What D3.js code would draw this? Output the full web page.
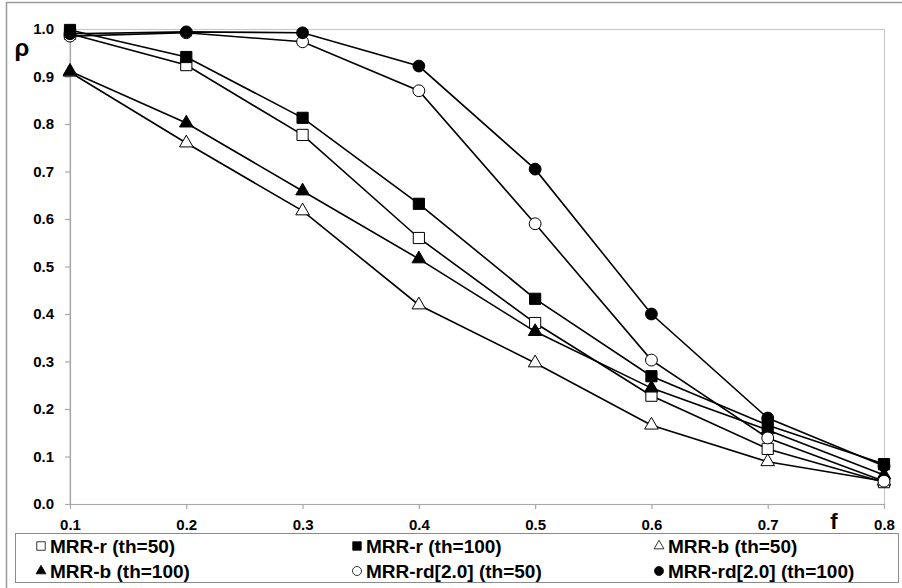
<!DOCTYPE html>
<html>
<head>
<meta charset="utf-8">
<script src="https://cdn.jsdelivr.net/npm/d3@7"></script>
<style>
  html, body { margin: 0; padding: 0; background: #fff; }
  svg { display: block; font-family: "Liberation Sans", Arial, sans-serif; font-weight: bold; }
</style>
</head>
<body>
<svg id="chart" width="902" height="588"></svg>
<script>
// Fraction f on the x axis
const fValues = [0.1, 0.2, 0.3, 0.4, 0.5, 0.6, 0.7, 0.8];
const yTicks = [0.0, 0.1, 0.2, 0.3, 0.4, 0.5, 0.6, 0.7, 0.8, 0.9, 1.0];

// rho for each method
const mrrR50   = [0.990, 0.924, 0.777, 0.560, 0.381, 0.228, 0.116, 0.046];
const mrrR100  = [0.998, 0.941, 0.813, 0.632, 0.432, 0.269, 0.166, 0.084];
const mrrB50   = [0.909, 0.760, 0.617, 0.419, 0.297, 0.166, 0.089, 0.048];
const mrrB100  = [0.911, 0.802, 0.659, 0.516, 0.363, 0.244, 0.156, 0.061];
const mrrRd50  = [0.985, 0.992, 0.973, 0.870, 0.590, 0.303, 0.139, 0.048];
const mrrRd100 = [0.990, 0.994, 0.992, 0.922, 0.705, 0.400, 0.181, 0.080];

const seriesNames = ["MRR-r (th=50)", "MRR-r (th=100)", "MRR-b (th=50)",
                     "MRR-b (th=100)", "MRR-rd[2.0] (th=50)", "MRR-rd[2.0] (th=100)"];
const seriesValues = [mrrR50, mrrR100, mrrB50, mrrB100, mrrRd50, mrrRd100];
const seriesShape = ["square", "square", "triangle", "triangle", "circle", "circle"];
const seriesFilled = [false, true, false, true, false, true];

const svg = d3.select("#chart");

// outer frame
svg.append("rect")
  .attr("x", 6.5).attr("y", 2.5).attr("width", 905).attr("height", 600)
  .attr("fill", "none").attr("stroke", "#9a9a9a").attr("stroke-width", 1.5);

const plot = { left: 70, right: 884, top: 29, bottom: 504 };

const x = d3.scaleLinear().domain([0.1, 0.8]).range([plot.left, plot.right]);
const y = d3.scaleLinear().domain([0, 1]).range([plot.bottom, plot.top]);

// plot area border (top and right visible)
svg.append("rect")
  .attr("x", plot.left).attr("y", plot.top + 0.5)
  .attr("width", plot.right - plot.left + 0.5).attr("height", plot.bottom - plot.top)
  .attr("fill", "none").attr("stroke", "#c8c8c8").attr("stroke-width", 1.2);

// axes
const xAxis = svg.append("g")
  .attr("transform", `translate(0,${plot.bottom})`)
  .call(d3.axisBottom(x).tickValues(fValues).tickFormat(d3.format(".1f")).tickSizeInner(5).tickSizeOuter(0).tickPadding(10));
const yAxis = svg.append("g")
  .attr("transform", `translate(${plot.left},0)`)
  .call(d3.axisLeft(y).tickValues(yTicks).tickFormat(d3.format(".1f")).tickSizeInner(5).tickSizeOuter(0).tickPadding(11));

[xAxis, yAxis].forEach(g => {
  g.select(".domain").attr("stroke", "#a8a8a8").attr("stroke-width", 1.2);
  g.selectAll(".tick line").attr("stroke", "#a8a8a8").attr("stroke-width", 1.2);
  g.selectAll(".tick text")
    .attr("fill", "#000")
    .style("font-size", "15px")
    .style("font-weight", "bold")
    .style("font-family", "'Liberation Sans', Arial, sans-serif");
});

// axis titles
svg.append("text").attr("x", 22).attr("y", 56).attr("text-anchor", "middle")
  .style("font-size", "24px").text("ρ");
svg.append("text").attr("x", 834).attr("y", 529).attr("text-anchor", "middle")
  .style("font-size", "22px").text("f");

function symbolPath(shape, size) {
  const type = shape === "square" ? d3.symbolSquare
             : shape === "triangle" ? d3.symbolTriangle : d3.symbolCircle;
  return d3.symbol().type(type).size(size)();
}
const markerSize = { square: 125, triangle: 80, circle: 110 };

const line = d3.line().x((d, i) => x(fValues[i])).y(d => y(d));

seriesValues.forEach((vals, s) => {
  const g = svg.append("g");
  g.append("path").datum(vals).attr("d", line)
    .attr("fill", "none").attr("stroke", "#000").attr("stroke-width", 1.6);
  g.selectAll("path.mk").data(vals).join("path")
    .attr("class", "mk")
    .attr("transform", (d, i) => `translate(${x(fValues[i])},${y(d)})`)
    .attr("d", symbolPath(seriesShape[s], markerSize[seriesShape[s]]))
    .attr("fill", seriesFilled[s] ? "#000" : "#fff")
    .attr("stroke", "#000").attr("stroke-width", 1);
});

// legend
svg.append("rect")
  .attr("x", 15.5).attr("y", 533.5).attr("width", 883).attr("height", 49)
  .attr("fill", "#fff").attr("stroke", "#8a8a8a").attr("stroke-width", 1);

const legendCols = [41, 357, 659];
const legendRows = [546, 571];
const legendSize = { square: 72, triangle: 42, circle: 64 };
seriesNames.forEach((name, s) => {
  const cx = legendCols[s % 3], cy = legendRows[Math.floor(s / 3)];
  svg.append("path")
    .attr("transform", `translate(${cx},${cy})`)
    .attr("d", symbolPath(seriesShape[s], legendSize[seriesShape[s]]))
    .attr("fill", seriesFilled[s] ? "#000" : "#fff")
    .attr("stroke", "#000").attr("stroke-width", 0.8);
  svg.append("text")
    .attr("x", cx + 9).attr("y", cy + 6.5)
    .style("font-size", "19px").text(name);
});
</script>
</body>
</html>
